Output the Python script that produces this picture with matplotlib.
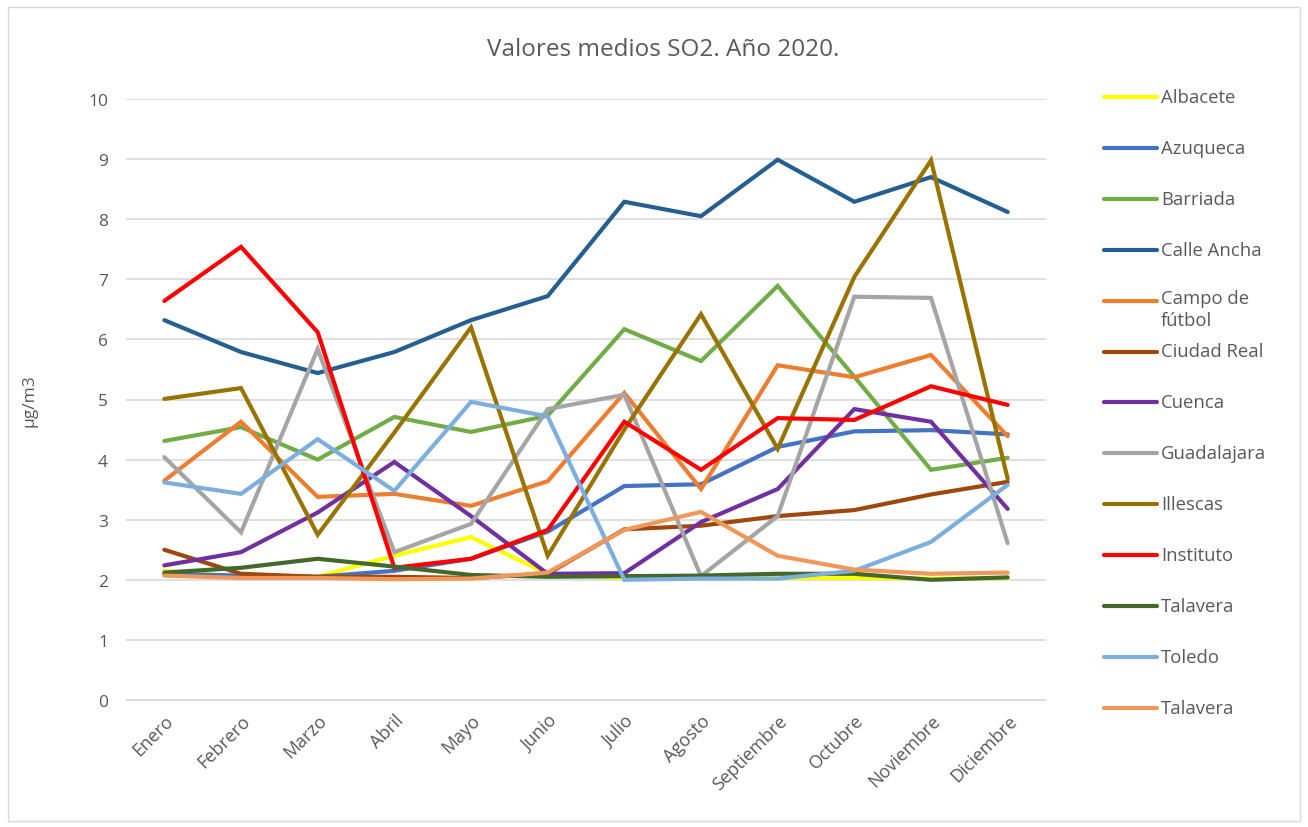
import matplotlib.pyplot as plt
from matplotlib.lines import Line2D
from matplotlib.patches import Rectangle

meses = ['Enero', 'Febrero', 'Marzo', 'Abril', 'Mayo', 'Junio', 'Julio',
         'Agosto', 'Septiembre', 'Octubre', 'Noviembre', 'Diciembre']

albacete = [2.15, 2.05, 2.05, 2.4, 2.71, 2.1, 2.03, 2.03, 2.03, 2.03, 2.02, 2.03]
azuqueca = [2.1, 2.07, 2.05, 2.15, 2.35, 2.8, 3.56, 3.59, 4.21, 4.47, 4.49, 4.42]
barriada = [4.31, 4.54, 4.0, 4.71, 4.46, 4.73, 6.17, 5.64, 6.89, 5.38, 3.83, 4.03]
calle_ancha = [6.32, 5.79, 5.44, 5.79, 6.32, 6.72, 8.29, 8.05, 8.99, 8.29, 8.7, 8.12]
campo_futbol = [3.65, 4.63, 3.38, 3.43, 3.23, 3.64, 5.11, 3.51, 5.57, 5.37, 5.74, 4.39]
ciudad_real = [2.5, 2.1, 2.05, 2.05, 2.03, 2.1, 2.84, 2.9, 3.06, 3.16, 3.42, 3.63]
cuenca = [2.24, 2.46, 3.12, 3.96, 3.06, 2.1, 2.11, 2.96, 3.51, 4.84, 4.63, 3.18]
guadalajara = [4.04, 2.79, 5.84, 2.46, 2.93, 4.84, 5.08, 2.06, 3.06, 6.71, 6.69, 2.61]
illescas = [5.01, 5.19, 2.75, 4.45, 6.2, 2.4, 4.5, 6.42, 4.18, 7.04, 8.98, 3.68]
instituto = [6.64, 7.54, 6.12, 2.2, 2.35, 2.83, 4.63, 3.83, 4.69, 4.66, 5.22, 4.91]
talavera = [2.12, 2.2, 2.35, 2.22, 2.08, 2.05, 2.06, 2.07, 2.1, 2.1, 2.0, 2.04]
toledo = [3.62, 3.43, 4.34, 3.48, 4.96, 4.72, 2.0, 2.02, 2.02, 2.15, 2.63, 3.58]
talavera2 = [2.07, 2.03, 2.03, 2.01, 2.02, 2.12, 2.83, 3.13, 2.4, 2.17, 2.1, 2.12]

nombres = ['Albacete', 'Azuqueca', 'Barriada', 'Calle Ancha', 'Campo de\nfútbol',
           'Ciudad Real', 'Cuenca', 'Guadalajara', 'Illescas', 'Instituto',
           'Talavera', 'Toledo', 'Talavera']
series = [albacete, azuqueca, barriada, calle_ancha, campo_futbol, ciudad_real,
          cuenca, guadalajara, illescas, instituto, talavera, toledo, talavera2]
colores = ['#FFFF00', '#4472C4', '#70AD47', '#255E91', '#ED7D31', '#9E480E',
           '#7030A0', '#A5A5A5', '#997300', '#FF0000', '#43682B', '#7CAFDD',
           '#F1975A']

W, H = 1308, 828
fig = plt.figure(figsize=(W / 100, H / 100), dpi=100)
ax = fig.add_axes([126 / W, 1 - 701 / H, (1046 - 126) / W, (701 - 100) / H])

x = list(range(len(meses)))
for vals, col in zip(series, colores):
    ax.plot(x, vals, color=col, lw=3, solid_joinstyle='miter', solid_capstyle='round')

gris = '#595959'
ax.set_xlim(-0.5, len(meses) - 0.5)
ax.set_ylim(0, 10)
ax.set_yticks(range(0, 11))
ax.yaxis.grid(True, color='#d9d9d9', lw=1.2)
ax.set_axisbelow(True)
ax.set_xticks(x)
ax.set_xticklabels(meses, rotation=45, ha='right', rotation_mode='anchor',
                   fontsize=13, color=gris, family='Open Sans')
ax.tick_params(axis='y', labelsize=12.5, labelcolor=gris, length=0, pad=13)
for lab in ax.get_yticklabels():
    lab.set_family('Open Sans')
ax.tick_params(axis='x', length=0, pad=8)
for s in ['top', 'right', 'left']:
    ax.spines[s].set_visible(False)
ax.spines['bottom'].set_color('#d9d9d9')
ax.set_ylabel('µg/m3', fontsize=12.5, color=gris, family='Open Sans', labelpad=36)

fig.text(663 / W, 1 - 50 / H, 'Valores medios SO2. Año 2020.', ha='center', va='center',
         fontsize=17.5, color=gris, family='Open Sans')

# leyenda manual a la derecha
for i, (nom, col) in enumerate(zip(nombres, colores)):
    yy = 1 - (98 + i * 50.9) / H
    fig.add_artist(Line2D([1104 / W, 1157 / W], [yy, yy], color=col, lw=3,
                          solid_capstyle='round', transform=fig.transFigure))
    fig.text(1161 / W, yy + (12 / H if '\n' in nom else 0), nom, ha='left',
             va='top' if '\n' in nom else 'center',
             fontsize=13.3, color=gris, family='Open Sans', linespacing=1.3,
             transform=fig.transFigure)

fig.add_artist(Rectangle((8 / W, 6 / H), (W - 16) / W, (H - 14) / H, fill=False,
                         ec='#d9d9d9', lw=1, transform=fig.transFigure))

fig.savefig('out.png', dpi=100)
